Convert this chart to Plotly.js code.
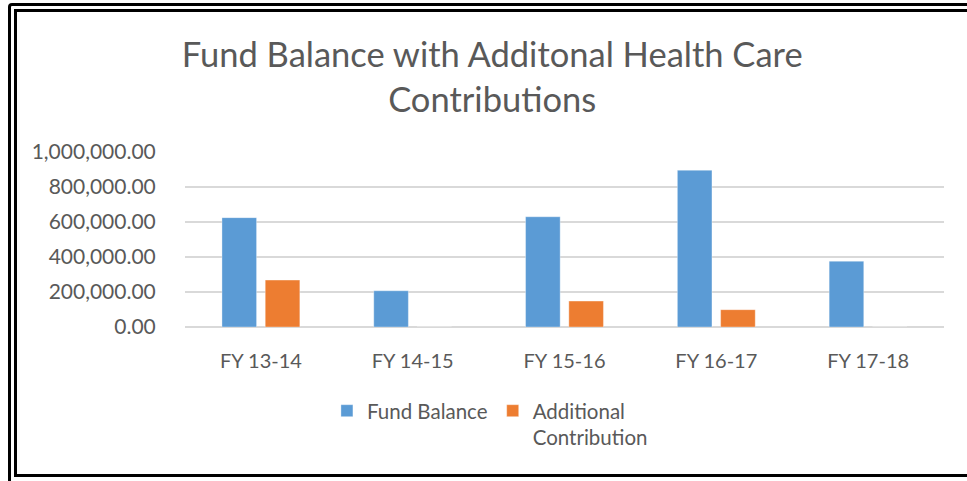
<!DOCTYPE html>
<html>
<head>
<meta charset="utf-8">
<script src="https://cdn.plot.ly/plotly-3.0.1.min.js"></script>
<style>
  html, body { margin: 0; padding: 0; background: #fff; overflow: hidden; }
  #wrap { position: relative; width: 967px; height: 481px; }
  #chart { position: absolute; left: 0; top: 0; width: 967px; height: 481px; }
  .frame { position: absolute; pointer-events: none; box-sizing: border-box; }
  #outer { left: 8px; top: 3px; width: 1000px; height: 520px; border-left: 3px solid #000; border-top: 3px solid #000; border-radius: 4px 0 0 0; }
  #inner { left: 14px; top: 9px; width: 1000px; height: 468px; border-left: 3px solid #000; border-top: 3px solid #000; border-bottom: 3px solid #000; }
</style>
</head>
<body>
<div id="wrap">
  <div id="chart"></div>
  <div id="outer" class="frame"></div>
  <div id="inner" class="frame"></div>
</div>
<script>
const categories = ["FY 13-14", "FY 14-15", "FY 15-16", "FY 16-17", "FY 17-18"];
const fundBalance = [625000, 207000, 630000, 896000, 376000];
const additionalContribution = [268000, 0, 148000, 99000, 0];
const seriesNames = ["Fund Balance", "Additional<br>Contribution"];
const yTicks = [0, 200000, 400000, 600000, 800000, 1000000];

const FONT = "Lato, 'Open Sans', sans-serif";
const GREY = "#595959";

const traces = [
  {
    type: "bar", x: categories, y: fundBalance, name: seriesNames[0],
    marker: { color: "#5b9bd5", line: { color: "rgba(255,255,255,0.35)", width: 1 } },
    hoverinfo: "skip"
  },
  {
    type: "bar", x: categories, y: additionalContribution, name: seriesNames[1],
    marker: { color: "#ed7d31", line: { color: "rgba(255,255,255,0.35)", width: 1 } },
    hoverinfo: "skip"
  }
];

const layout = {
  width: 967, height: 481,
  margin: { l: 185, r: 23, t: 152, b: 154, pad: 0 },
  paper_bgcolor: "#fff", plot_bgcolor: "#fff",
  font: { family: FONT, color: GREY, size: 20 },
  title: {
    text: "Fund Balance with Additonal Health Care<br>Contributions",
    font: { family: FONT, size: 34.5, color: GREY },
    x: 0.509, xanchor: "center", xref: "container",
    y: 0.86, yanchor: "top", yref: "container"
  },
  barmode: "group", bargap: 0.43, bargroupgap: 0.2,
  showlegend: true,
  legend: {
    orientation: "h", x: 0.187, xanchor: "left", y: -0.365, yanchor: "top",
    valign: "top", font: { family: FONT, size: 20.5, color: GREY },
    bgcolor: "rgba(0,0,0,0)"
  },
  xaxis: {
    type: "category", showgrid: false, showline: false, zeroline: false,
    ticks: "outside", ticklen: 16, tickcolor: "rgba(0,0,0,0)",
    tickfont: { family: FONT, size: 20, color: GREY }, fixedrange: true
  },
  yaxis: {
    range: [0, 1000000], tickvals: yTicks, tickformat: ",.2f",
    showgrid: true, gridcolor: "#d9d9d9", gridwidth: 1.3,
    zeroline: true, zerolinecolor: "#d9d9d9", zerolinewidth: 1.5,
    showline: false, ticks: "outside", ticklen: 24, tickcolor: "rgba(0,0,0,0)",
    tickfont: { family: FONT, size: 21, color: GREY }, fixedrange: true
  }
};

Plotly.newPlot("chart", traces, layout, { displayModeBar: false, staticPlot: true });
</script>
</body>
</html>
